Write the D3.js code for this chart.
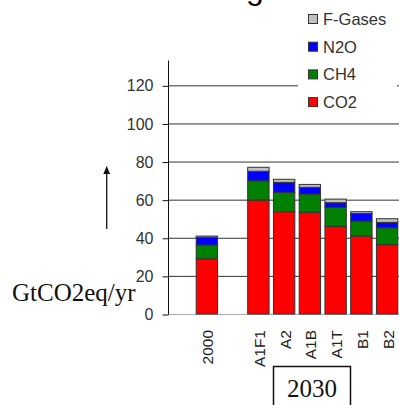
<!DOCTYPE html>
<html>
<head>
<meta charset="utf-8">
<script src="https://cdn.jsdelivr.net/npm/d3@7"></script>
<style>
  body { margin: 0; background: #fff; }
  svg { display: block; }
</style>
</head>
<body>
<svg id="canvas"></svg>
<script>
const categories = ["2000", "A1F1", "A2", "A1B", "A1T", "B1", "B2"];
const co2 = [29.0, 59.8, 53.7, 53.4, 46.0, 40.9, 36.4];
const ch4 = [7.2, 10.1, 10.2, 9.6, 10.0, 7.9, 8.9];
const n2o = [4.0, 5.0, 5.2, 3.5, 2.4, 4.0, 2.8];
const fgases = [0.7, 2.1, 1.6, 1.5, 1.9, 0.9, 1.9];
const gases = ["CO2", "CH4", "N2O", "F-Gases"];
const colors = ["#ff0000", "#008000", "#0000ff", "#c0c0c0"];
const yTicks = [0, 20, 40, 60, 80, 100, 120];

const width = 399;
const height = 405;

const canvas = d3.select("#canvas").attr("width", width).attr("height", height);

// one empty slot between 2000 and the 2030 scenarios
const slots = ["2000", "gap", "A1F1", "A2", "A1B", "A1T", "B1", "B2"];

const xScale = d3.scaleBand()
  .domain(slots)
  .range([194, 400])
  .paddingInner(0.17)
  .paddingOuter(0.085);

const yScale = d3.scaleLinear()
  .domain([0, 133.3])
  .range([314, 60]);

const rows = categories.map((c, i) => ({
  cat: c, "CO2": co2[i], "CH4": ch4[i], "N2O": n2o[i], "F-Gases": fgases[i]
}));
const stacked = d3.stack().keys(gases)(rows);
const color = d3.scaleOrdinal().domain(gases).range(colors);

// gridlines
canvas.append("g")
  .selectAll("line")
  .data(yTicks)
  .enter()
  .append("line")
  .attr("x1", 168)
  .attr("x2", width)
  .attr("y1", (d) => yScale(d) + 0.5)
  .attr("y2", (d) => yScale(d) + 0.5)
  .attr("stroke", (d) => (d === 0 ? "#aaa" : "#333"))
  .attr("stroke-width", 1);

// y axis
const yAxis = d3.axisLeft(yScale).tickValues(yTicks).tickSize(6).tickPadding(9);
const yg = canvas.append("g")
  .attr("transform", "translate(168.5, 0.5)")
  .call(yAxis);
yg.select(".domain").attr("stroke", "#111").attr("d", `M0,${yScale(0)}V60`);
yg.selectAll(".tick line").attr("stroke", "#111");
yg.selectAll(".tick text")
  .style("font-family", "'Liberation Sans', Arial, sans-serif")
  .style("font-size", "16px")
  .attr("fill", "#333");

// bars
canvas.append("g")
  .selectAll("g")
  .data(stacked)
  .enter()
  .append("g")
  .attr("fill", (d) => color(d.key))
  .selectAll("rect")
  .data((d) => d)
  .enter()
  .append("rect")
  .attr("x", (d) => xScale(d.data.cat))
  .attr("y", (d) => yScale(d[1]))
  .attr("width", xScale.bandwidth())
  .attr("height", (d) => yScale(d[0]) - yScale(d[1]))
  .attr("stroke", "#333")
  .attr("stroke-width", 1);

// category labels
canvas.append("g")
  .selectAll("text")
  .data(categories)
  .enter()
  .append("text")
  .attr("transform", (d) => `translate(${xScale(d) + xScale.bandwidth() / 2 + 1}, 330) rotate(-90)`)
  .attr("text-anchor", "end")
  .attr("dominant-baseline", "central")
  .style("font-family", "'Liberation Sans', Arial, sans-serif")
  .style("font-size", "15.5px")
  .attr("fill", "#222")
  .text((d) => d);

// 2030 box
canvas.append("rect")
  .attr("x", 273.5)
  .attr("y", 366.5)
  .attr("width", 77)
  .attr("height", 50)
  .attr("fill", "none")
  .attr("stroke", "#111")
  .attr("stroke-width", 1.5);
canvas.append("text")
  .attr("x", 312)
  .attr("y", 397)
  .attr("text-anchor", "middle")
  .style("font-family", "'Liberation Serif', 'Times New Roman', serif")
  .style("font-size", "25px")
  .attr("fill", "#111")
  .text("2030");

// legend
const legendItems = ["F-Gases", "N2O", "CH4", "CO2"];
const legend = canvas.append("g");
legend.append("rect")
  .attr("x", 298)
  .attr("y", 4)
  .attr("width", 99)
  .attr("height", 112)
  .attr("fill", "#fff");
const li = legend.selectAll("g.item")
  .data(legendItems)
  .enter()
  .append("g")
  .attr("class", "item")
  .attr("transform", (d, i) => `translate(308, ${19 + i * 27.7})`);
li.append("rect")
  .attr("x", 0.5)
  .attr("y", -4.5)
  .attr("width", 9)
  .attr("height", 9)
  .attr("fill", (d) => color(d))
  .attr("stroke", "#333");
li.append("text")
  .attr("x", 15)
  .attr("y", 0)
  .attr("dominant-baseline", "central")
  .style("font-family", "'Liberation Sans', Arial, sans-serif")
  .style("font-size", "16.5px")
  .attr("fill", "#333")
  .text((d) => d);

// y label and arrow
canvas.append("text")
  .attr("x", 12)
  .attr("y", 301)
  .style("font-family", "'Liberation Serif', 'Times New Roman', serif")
  .style("font-size", "25px")
  .attr("fill", "#111")
  .text("GtCO2eq/yr");
canvas.append("line")
  .attr("x1", 106.7)
  .attr("x2", 106.7)
  .attr("y1", 229)
  .attr("y2", 172)
  .attr("stroke", "#111")
  .attr("stroke-width", 1.3);
canvas.append("path")
  .attr("d", "M106.7,166 L103.3,174 L110.1,174 Z")
  .attr("fill", "#111");

// cut-off title descender
canvas.append("text")
  .attr("x", 255)
  .attr("y", -1)
  .attr("text-anchor", "middle")
  .style("font-family", "'Liberation Sans', Arial, sans-serif")
  .style("font-size", "32px")
  .attr("fill", "#000")
  .text("g");
</script>
</body>
</html>
